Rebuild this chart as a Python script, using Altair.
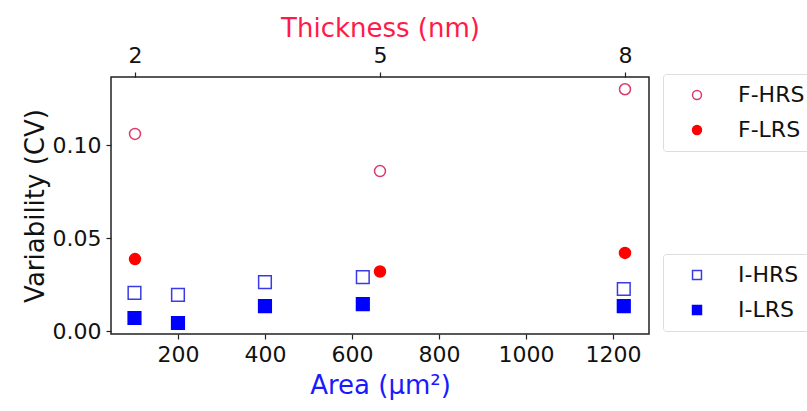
import altair as alt
import pandas as pd

# Data
area = [100, 200, 400, 625, 1225]
i_hrs = [0.0205, 0.0194, 0.0263, 0.0290, 0.0226]
i_lrs = [0.0070, 0.0043, 0.0134, 0.0145, 0.0134]

thickness = [2, 5, 8]
f_hrs = [0.106, 0.086, 0.130]
f_lrs = [0.0387, 0.0320, 0.0420]

i_df = pd.DataFrame({
    "area": area + area,
    "cv": i_hrs + i_lrs,
    "series": ["I-HRS"] * len(area) + ["I-LRS"] * len(area),
})
f_df = pd.DataFrame({
    "thickness": thickness + thickness,
    "cv": f_hrs + f_lrs,
    "series": ["F-HRS"] * len(thickness) + ["F-LRS"] * len(thickness),
})

FONT = "DejaVu Sans"

y_enc = alt.Y(
    "cv:Q",
    scale=alt.Scale(domain=[-0.0016, 0.1366], nice=False, zero=False),
    axis=alt.Axis(values=[0, 0.05, 0.10], format=".2f", title="Variability (CV)",
                  titlePadding=4),
)

def legend(y):
    return alt.Legend(
        title=None, orient="none", legendX=552, legendY=y,
        padding=10, rowPadding=13, symbolOffset=13, labelOffset=30,
        labelFontSize=22, labelFont=FONT, labelColor="#111",
        strokeColor="#dddddd", fillColor="white", cornerRadius=3,
        symbolSize=80, symbolStrokeWidth=1.5,
    )

leg_i = legend(177)
leg_f = legend(-3)

i_layer = alt.Chart(i_df).mark_point(filled=True, size=160, strokeWidth=1.5, opacity=1).encode(
    x=alt.X(
        "area:Q",
        scale=alt.Scale(domain=[46, 1283], nice=False, zero=False),
        axis=alt.Axis(values=[200, 400, 600, 800, 1000, 1200], format="d", orient="bottom",
                      title="Area (μm²)", titleColor="#1a1aff", titlePadding=7),
    ),
    y=y_enc,
    shape=alt.Shape("series:N", scale=alt.Scale(domain=["I-HRS", "I-LRS"], range=["square", "square"]), legend=leg_i),
    stroke=alt.Stroke("series:N", scale=alt.Scale(domain=["I-HRS", "I-LRS"], range=["#3a3ae6", "#0000ff"]), legend=leg_i),
    fill=alt.Fill("series:N", scale=alt.Scale(domain=["I-HRS", "I-LRS"], range=["white", "#0000ff"]), legend=leg_i),
)

f_layer = alt.Chart(f_df).mark_point(filled=True, size=120, strokeWidth=1.5, opacity=1).encode(
    x=alt.X(
        "thickness:Q",
        scale=alt.Scale(domain=[1.706, 8.294], nice=False, zero=False),
        axis=alt.Axis(values=[2, 5, 8], orient="top", title="Thickness (nm)",
                      titleColor="#ff1a4a", titlePadding=3),
    ),
    y=y_enc,
    shape=alt.Shape("series:N", scale=alt.Scale(domain=["F-HRS", "F-LRS"], range=["circle", "circle"]), legend=leg_f),
    stroke=alt.Stroke("series:N", scale=alt.Scale(domain=["F-HRS", "F-LRS"], range=["#dc3a6a", "#ff0000"]), legend=leg_f),
    fill=alt.Fill("series:N", scale=alt.Scale(domain=["F-HRS", "F-LRS"], range=["white", "#ff0000"]), legend=leg_f),
)

chart = (
    alt.layer(i_layer, f_layer)
    .resolve_scale(x="independent", shape="independent", stroke="independent", fill="independent")
    .properties(
        width=538, height=257,
        autosize=alt.AutoSizeParams(type="none"),
        padding={"left": 111, "top": 77, "right": 158, "bottom": 77},
        background="white",
    )
    .configure_view(stroke="#222222", strokeWidth=1.5)
    .configure_axis(
        grid=False, domain=False,
        labelFont=FONT, labelFontSize=22, labelColor="#111111", labelPadding=5,
        tickColor="#222222", tickSize=5, tickWidth=1.2,
        titleFont=FONT, titleFontSize=26, titleFontWeight="normal", titleColor="#111111",
    )
)

chart.save("out.html", embed_options={"renderer": "svg", "actions": False})
